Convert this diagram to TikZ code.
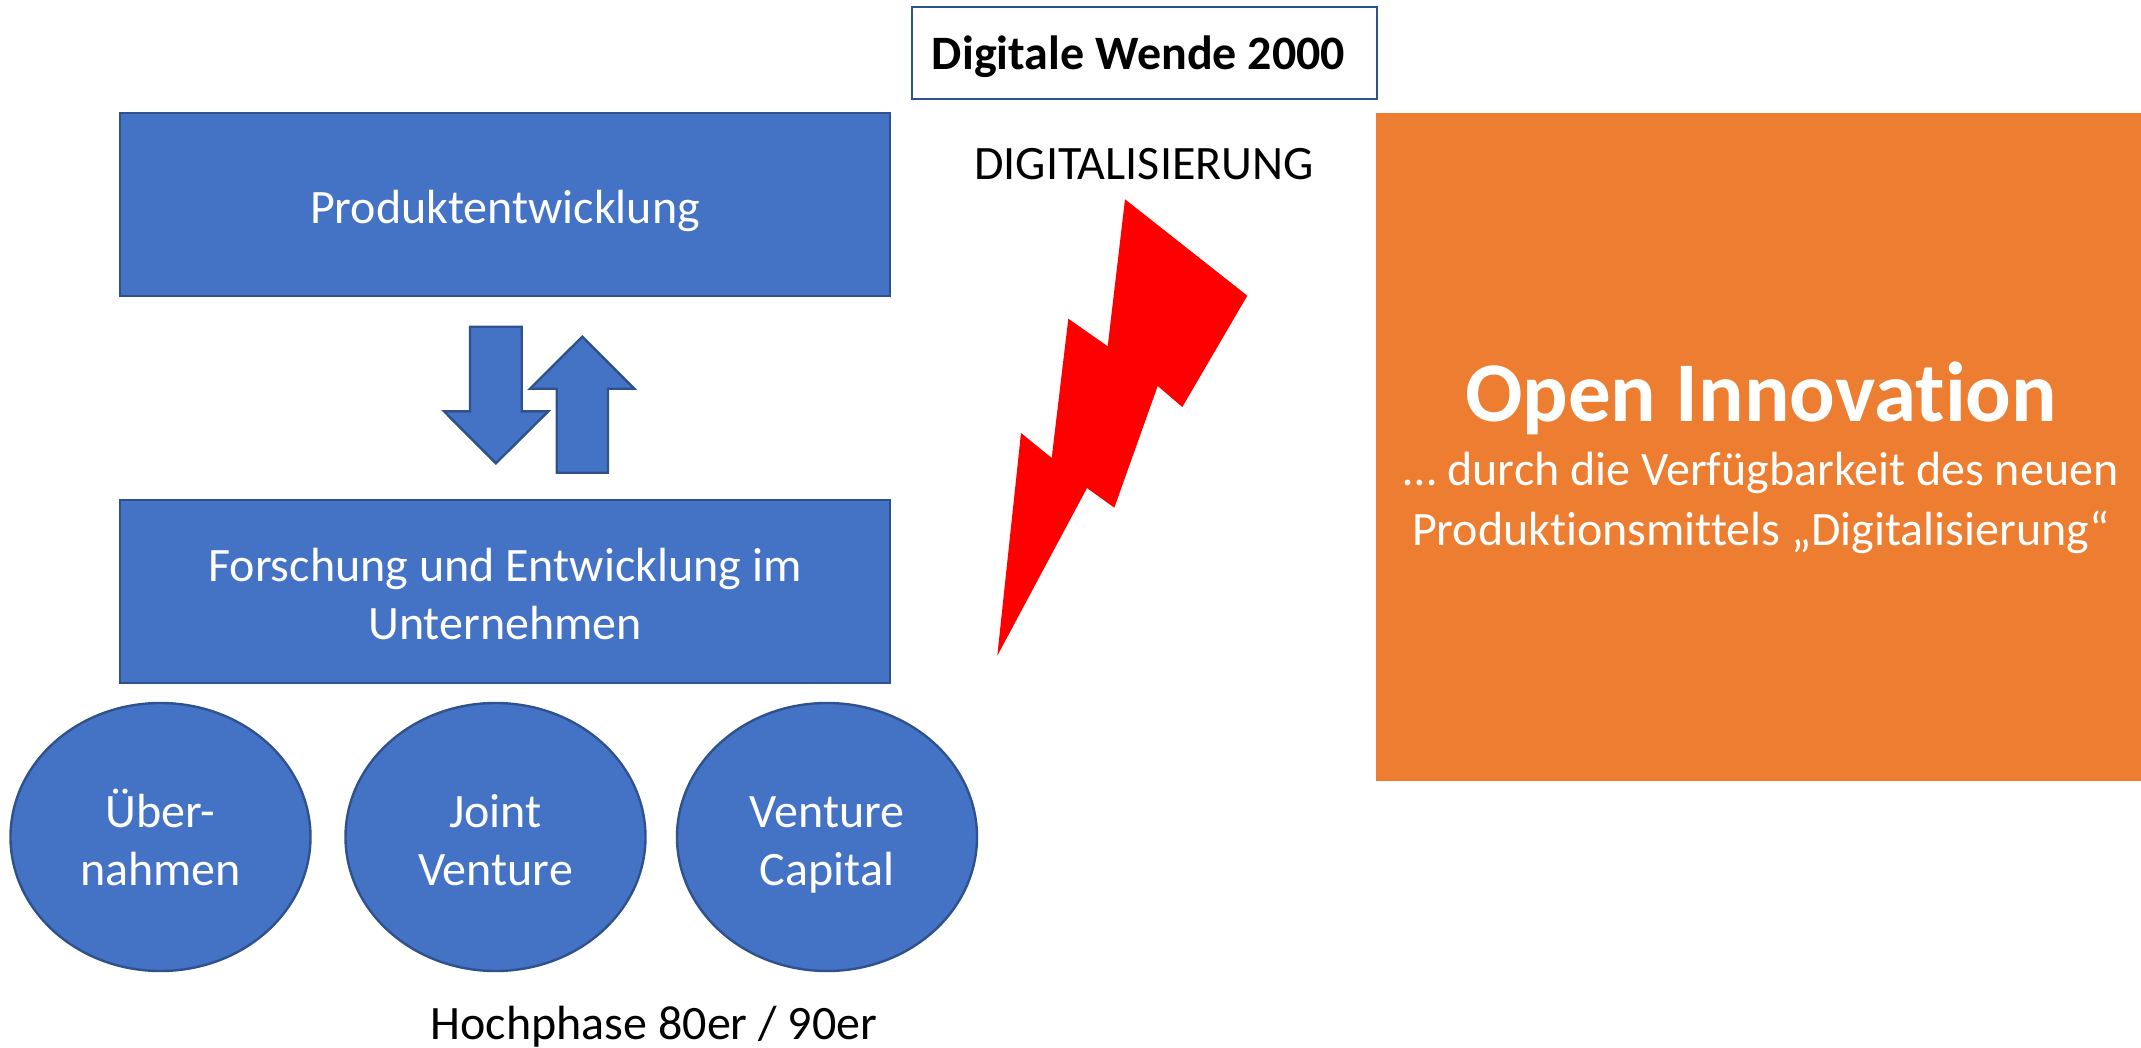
\documentclass[tikz,border=0pt]{standalone}
\usepackage{fontspec}
\setmainfont{Carlito}[Ligatures=CommonOff]
\usetikzlibrary{shapes.geometric}
\definecolor{blockblue}{HTML}{4472C4}
\definecolor{blockedge}{HTML}{2F528F}
\definecolor{blockorange}{HTML}{ED7D31}
\newcommand{\linestrut}{\rule[-5pt]{0pt}{29pt}}
\tikzstyle{object}=[draw=blockedge, line width=1.2pt, fill=blockblue, text=white, font=\fontsize{24}{29}\selectfont, align=center, inner sep=0pt]
\tikzstyle{block}=[object, minimum width=385pt, minimum height=91.5pt]
\tikzstyle{blob}=[object, ellipse, minimum width=150pt, minimum height=134pt]
\tikzstyle{blockarrow}=[draw=blockedge, line width=1.2pt, fill=blockblue, line join=miter]
\tikzstyle{plain}=[font=\fontsize{24}{29}\selectfont, inner sep=0pt, anchor=base]

\begin{document}
\begin{tikzpicture}[x=0.5pt, y=-0.5pt]
          \useasboundingbox (0, 0) rectangle (2141, 1048);
          \node[block] (produkt) at (505, 204.5) {\linestrut Produktentwicklung};
          \node[block] (forschung) at (505, 591.5) {\linestrut Forschung und Entwicklung im\\\linestrut Unternehmen};
          \node[blob] (uebernahmen) at (160.5, 837) {\linestrut Über-\\\linestrut nahmen};
          \node[blob] (joint) at (495.5, 837) {\linestrut Joint\\\linestrut Venture};
          \node[blob] (capital) at (827, 837) {\linestrut Venture\\\linestrut Capital};
          \node[plain] (hochphase) at (654, 1039) {Hochphase 80er / 90er};
          \draw[blockarrow]
            (470, 326.7) -- (521.7, 326.7) -- (521.7, 411.3) -- (548.3, 411.3)
            -- (495.9, 463.3) -- (444, 411.3) -- (470, 411.3) -- cycle;
          \draw[blockarrow]
            (582.3, 336.7) -- (634.3, 388.7) -- (608, 388.7) -- (608, 472.7)
            -- (556.7, 472.7) -- (556.7, 388.7) -- (530, 388.7) -- cycle;
          \node[draw=blockedge, line width=1.2pt, minimum width=232.5pt, minimum height=46pt, inner sep=0pt] (wende) at (1144.5, 53) {};
          \node[plain, font=\fontsize{24}{29}\selectfont\bfseries] (wendetext) at (1138.5, 69.5) {Digitale Wende 2000};
          \node[plain] (digital) at (1144, 180) {DIGITALISIERUNG};
          \fill[red]
            (1125, 199.3) -- (1247.3, 295.7) -- (1182.3, 407) -- (1157.7, 386)
            -- (1114.3, 507.7) -- (1087, 488) -- (997.3, 655.7) -- (1021, 433)
            -- (1051.7, 458) -- (1068.3, 318.7) -- (1107.7, 346.3) -- cycle;
          \node[fill=blockorange, minimum width=382.5pt, minimum height=334pt, inner sep=0pt] (orange) at (1758.5, 447) {};
          \node[text=white, font=\fontsize{42.5}{50}\selectfont\bfseries, inner sep=0pt] (open) at (1761, 398) {Open Innovation};
          \node[text=white, font=\fontsize{24}{30}\selectfont, align=center, inner sep=0pt] (durch) at (1761, 503) {… durch die Verfügbarkeit des neuen\\Produktionsmittels „Digitalisierung“};
        \end{tikzpicture}
\end{document}
